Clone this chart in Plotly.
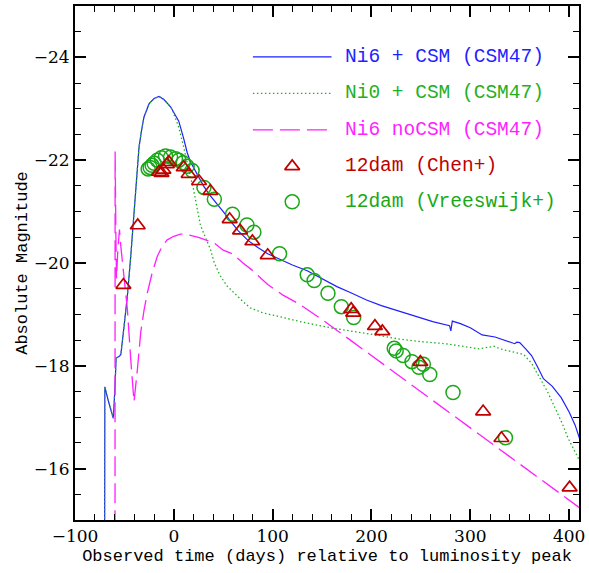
import plotly.graph_objects as go

# ---- model light curves: days from luminosity peak vs absolute magnitude ----
ni6_csm_t = [-70.0, -69.8, -66.0, -61.2, -59.5, -58.4, -55.5, -53.6, -50.3, -47.0,
             -43.6, -41.0, -39.3, -38.6, -37.0, -35.2, -32.5, -30.2, -25.0, -20.0,
             -15.0, -10.0, -3.3, 0.0, 5.0, 10.0, 13.5, 16.8, 20.0, 23.5,
             30.0, 36.0, 43.0, 50.0, 58.0, 65.0, 75.0, 85.0, 95.0, 107.0,
             120.0, 135.0, 150.0, 165.0, 178.0, 195.0, 210.0, 228.0, 245.0, 262.0,
             279.0, 280.3, 281.8, 290.0, 300.0, 312.0, 325.0, 335.0, 345.0, 347.0,
             350.0, 356.0, 362.0, 368.0, 374.0, 383.0, 392.0, 400.0, 406.0, 411.0]
ni6_csm_mag = [-14.8, -17.59, -17.3, -16.98, -17.6, -18.15, -18.18, -18.22, -18.78, -19.36,
               -20.13, -20.84, -21.23, -21.5, -21.85, -22.26, -22.6, -22.84, -23.1, -23.2,
               -23.24, -23.18, -23.04, -22.92, -22.76, -22.42, -22.15, -21.97, -21.85, -21.75,
               -21.5, -21.33, -21.17, -21.0, -20.8, -20.63, -20.44, -20.3, -20.18, -20.07,
               -19.96, -19.85, -19.69, -19.54, -19.43, -19.28, -19.17, -19.06, -18.95, -18.86,
               -18.78, -18.68, -18.87, -18.82, -18.74, -18.6, -18.56, -18.5, -18.43, -18.46,
               -18.45, -18.33, -18.2, -17.98, -17.75, -17.6, -17.38, -17.1, -16.85, -16.56]

ni0_csm_t = [-70.0, -69.8, -66.0, -61.2, -59.5, -58.4, -55.5, -53.6, -50.3, -47.0,
             -43.6, -41.0, -39.3, -38.6, -37.0, -35.2, -32.5, -30.2, -25.0, -20.0,
             -15.0, -10.0, -3.3, -1.6, 5.0, 10.0, 15.0, 20.0, 23.5, 27.0,
             33.0, 37.0, 41.0, 47.0, 54.0, 60.0, 70.0, 77.0, 90.0, 104.0,
             130.0, 161.0, 190.0, 208.0, 228.0, 250.0, 275.0, 300.0, 309.0, 318.0,
             324.0, 330.0, 340.0, 354.0, 362.0, 369.0, 378.0, 386.0, 393.0, 399.0,
             405.0, 411.0]
ni0_csm_mag = [-14.8, -17.59, -17.3, -16.98, -17.6, -18.15, -18.18, -18.22, -18.78, -19.36,
               -20.13, -20.84, -21.23, -21.5, -21.85, -22.26, -22.6, -22.84, -23.1, -23.2,
               -23.24, -23.18, -23.04, -22.98, -22.64, -22.26, -21.81, -21.43, -21.07, -20.73,
               -20.45, -20.27, -20.0, -19.75, -19.55, -19.43, -19.25, -19.13, -19.03, -18.97,
               -18.85, -18.73, -18.65, -18.59, -18.52, -18.47, -18.43, -18.36, -18.33, -18.36,
               -18.38, -18.33, -18.28, -18.22, -18.05, -17.81, -17.5, -17.17, -16.88, -16.59,
               -16.35, -16.14]

ni6_nocsm_t = [-59.5, -59.4, -58.6, -58.0, -56.8, -55.0, -53.5, -51.0, -47.0, -43.5,
               -40.3, -37.0, -33.5, -30.0, -26.8, -22.0, -16.7, -12.0, -6.7, 0.0,
               6.7, 12.0, 17.0, 25.0, 32.0, 40.0, 50.0, 60.0, 70.0, 80.0,
               95.0, 110.0, 127.0, 150.0, 180.0, 210.0, 240.0, 270.0, 300.0, 330.0,
               360.0, 390.0, 411.0, 414.0]
ni6_nocsm_mag = [-14.8, -22.17, -20.5, -19.7, -20.2, -20.65, -20.3, -19.8, -19.1, -18.1,
                 -17.3, -17.9, -18.65, -19.1, -19.42, -19.8, -20.13, -20.32, -20.45, -20.52,
                 -20.56, -20.56, -20.54, -20.5, -20.45, -20.4, -20.25, -20.17, -20.0, -19.85,
                 -19.58, -19.38, -19.2, -18.9, -18.48, -18.06, -17.64, -17.22, -16.8, -16.37,
                 -15.95, -15.53, -15.24, -15.19]

# ---- PS1-12dam photometry ----
chen_t = [-51.0, -36.5, -15.0, -12.5, -10.5, -7.0, -5.0, 10.0, 15.0, 25.5,
          37.0, 56.5, 67.0, 79.5, 95.0, 179.5, 181.5, 203.5, 211.0, 249.5,
          313.0, 331.5, 400.5]
chen_mag = [-19.57, -20.73, -21.77, -21.75, -21.81, -21.92, -21.96, -21.86, -21.73, -21.59,
            -21.40, -20.85, -20.63, -20.42, -20.15, -19.10, -19.03, -18.77, -18.67, -18.07,
            -17.11, -16.59, -15.63]

vrees_t = [-26.0, -24.0, -22.0, -20.0, -16.7, -12.7, -8.4, -3.3, 1.7, 5.0,
           9.5, 13.5, 18.5, 30.5, 41.0, 59.4, 74.0, 81.0, 107.0, 135.0,
           142.0, 156.0, 169.5, 182.0, 223.0, 225.0, 232.0, 241.0, 248.0, 252.5,
           259.0, 282.5, 335.6]
vrees_mag = [-21.83, -21.86, -21.9, -21.94, -22.0, -22.05, -22.08, -22.06, -22.03, -22.0,
             -21.95, -21.88, -21.8, -21.47, -21.24, -20.95, -20.74, -20.6, -20.18, -19.77,
             -19.66, -19.41, -19.15, -18.94, -18.34, -18.29, -18.2, -18.08, -17.97, -18.03,
             -17.83, -17.48, -16.6]

x_ticks = [-100, 0, 100, 200, 300, 400]
y_ticks = [-24, -22, -20, -18, -16]

names = ["Ni6 + CSM (CSM47)", "Ni0 + CSM (CSM47)", "Ni6 noCSM (CSM47)",
         "12dam (Chen+)", "12dam (Vreeswijk+)"]

BLUE = "#1f1fff"
GREEN_LINE = "#1fb01f"
MAGENTA = "#ff1fff"
RED = "#c00000"
GREEN_MK = "#18a818"
FONT = "Liberation Mono"
TICK_FONT = "DejaVu Serif"

BLUE_LINE = dict(color=BLUE, width=1.2)
DOT_LINE = dict(color=GREEN_LINE, width=1.3, dash="1.5px,2.5px")
DASH_LINE = dict(color=MAGENTA, width=1.3, dash="20px,7px")
TRI = dict(symbol="triangle-up-open", size=13, color=RED, line=dict(width=1.7, color=RED))
CIRC = dict(symbol="circle-open", size=14, color=GREEN_MK, line=dict(width=1.5, color=GREEN_MK))

fig = go.Figure()

fig.add_trace(go.Scatter(x=ni6_csm_t, y=ni6_csm_mag, mode="lines", line=BLUE_LINE,
                         showlegend=False))
fig.add_trace(go.Scatter(x=ni0_csm_t, y=ni0_csm_mag, mode="lines", line=DOT_LINE,
                         showlegend=False))
fig.add_trace(go.Scatter(x=ni6_nocsm_t, y=ni6_nocsm_mag, mode="lines", line=DASH_LINE,
                         showlegend=False))
fig.add_trace(go.Scatter(x=vrees_t, y=vrees_mag, mode="markers", marker=CIRC,
                         showlegend=False))
fig.add_trace(go.Scatter(x=chen_t, y=chen_mag, mode="markers", marker=TRI,
                         showlegend=False))

# ---- key, drawn on an overlaid unit axis pair ----
key_rows = [0.901, 0.830, 0.759, 0.688, 0.619]
key_line_x = [0.353, 0.509]
key_mark_x = 0.431
key_text_x = 0.531
key_colors = [BLUE, GREEN_LINE, MAGENTA, RED, GREEN_MK]

for row, style in zip(key_rows[:3], [BLUE_LINE, DOT_LINE, DASH_LINE]):
    fig.add_trace(go.Scatter(x=key_line_x, y=[row, row], mode="lines", line=style,
                             xaxis="x2", yaxis="y2", showlegend=False, hoverinfo="skip"))
for row, mk in zip(key_rows[3:], [TRI, CIRC]):
    fig.add_trace(go.Scatter(x=[key_mark_x], y=[row], mode="markers", marker=mk,
                             xaxis="x2", yaxis="y2", showlegend=False, hoverinfo="skip"))
for row, name, col in zip(key_rows, names, key_colors):
    fig.add_annotation(x=key_text_x, y=row, xref="paper", yref="paper", text=name,
                       showarrow=False, xanchor="left", yanchor="middle",
                       font=dict(family=FONT, size=19.5, color=col))

axis_common = dict(
    ticks="inside", tickcolor="black", tickwidth=1.5, ticklen=11,
    showline=True, linecolor="black", linewidth=2, mirror="allticks",
    showgrid=False, zeroline=False,
    tickfont=dict(family=TICK_FONT, size=17, color="black"),
)

fig.update_layout(
    width=589, height=573,
    margin=dict(l=75, r=7, t=4, b=53),
    paper_bgcolor="white", plot_bgcolor="white",
    xaxis=dict(range=[-100, 410], tickvals=x_ticks,
               minor=dict(dtick=20, ticks="inside", ticklen=6, tickwidth=1.2,
                          tickcolor="black", showgrid=False),
               title=dict(text="Observed time (days) relative to luminosity peak",
                          font=dict(family=FONT, size=17, color="black"), standoff=4),
               **axis_common),
    yaxis=dict(range=[-15, -25], tickvals=y_ticks, ticklabelstandoff=0,
               minor=dict(dtick=0.5, ticks="inside", ticklen=6, tickwidth=1.2,
                          tickcolor="black", showgrid=False),
               title=dict(text="Absolute Magnitude",
                          font=dict(family=FONT, size=17, color="black"), standoff=2),
               **axis_common),
    xaxis2=dict(overlaying="x", range=[0, 1], visible=False, fixedrange=True),
    yaxis2=dict(overlaying="y", range=[0, 1], visible=False, fixedrange=True),
)

fig.write_html("out.html")
